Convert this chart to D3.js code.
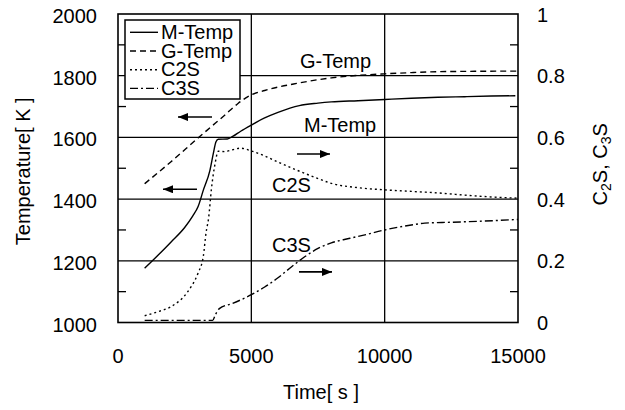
<!DOCTYPE html>
<html>
<head>
  <script src="https://d3js.org/d3.v7.min.js"></script>
  <style>
    body {
  margin: 0;
  background-color: #ffffff;
}

svg {
  font-family: 'Liberation Sans', Arial, sans-serif;
}

.grid line {
  stroke: #000;
  stroke-width: 1.3px;
}

.curve {
  fill: none;
  stroke: #000;
  stroke-width: 1.4px;
}
  </style>
</head>
<body>

<script>
// Values.
const mTemp = [[1000,1176],[1500,1218],[2000,1262],[2500,1308],[2800,1345],[3000,1375],[3200,1429],[3450,1494],[3575,1548],[3675,1586],[3760,1594],[4100,1595],[4300,1603],[4600,1620],[5000,1640],[5500,1663],[6000,1681],[6800,1703],[7500,1711],[8000,1715],[9000,1719],[10000,1723],[11000,1727],[12000,1730],[13000,1732],[14000,1734],[14900,1735]];
const gTemp = [[1000,1450],[2000,1522],[3000,1598],[3500,1635],[4000,1672],[4500,1710],[5000,1738],[5500,1752],[6000,1763],[6700,1775],[7500,1787],[8000,1793],[9000,1801],[10000,1806],[11000,1810],[12000,1813],[13000,1814],[15000,1815]];
const c2s = [[1000,0.022],[1500,0.035],[2000,0.052],[2600,0.098],[3000,0.16],[3200,0.215],[3300,0.29],[3400,0.34],[3500,0.43],[3640,0.515],[3760,0.555],[4000,0.554],[4300,0.56],[4600,0.565],[5000,0.556],[5500,0.54],[6000,0.52],[6700,0.494],[7400,0.47],[8000,0.451],[9000,0.437],[10000,0.43],[11000,0.425],[12000,0.42],[13000,0.413],[14000,0.407],[15000,0.403]];
const c3s = [[1000,0.007],[2000,0.007],[3000,0.007],[3550,0.007],[3650,0.025],[3800,0.045],[4300,0.062],[5000,0.09],[5500,0.115],[6000,0.145],[6500,0.18],[7000,0.213],[7500,0.24],[8000,0.258],[8700,0.273],[9300,0.285],[10000,0.30],[11000,0.316],[11500,0.322],[12500,0.325],[13500,0.328],[15000,0.334]];

const xTicks = [0, 5000, 10000, 15000];
const tempTicks = [1000, 1200, 1400, 1600, 1800, 2000];
const tempMinor = [1100, 1300, 1500, 1700, 1900];
const fracTicks = [0, 0.2, 0.4, 0.6, 0.8, 1];
const fracMinor = [0.1, 0.3, 0.5, 0.7, 0.9];

const legendNames = ["M-Temp", "G-Temp", "C2S", "C3S"];
const dashes = [null, "6,4", "2,3", "8,3,2,3"];

// curve labels [time, temperature, text]
const curveLabels = [[6825, 1824, "G-Temp"], [6975, 1618, "M-Temp"], [5775, 1423, "C2S"], [5775, 1230, "C3S"]];
// arrows [t from, t to, value, axis]
const arrows = [[3525, 2250, 1666, "T"], [2962, 1687, 1432, "T"], [6712, 7950, 0.546, "C"], [6787, 8025, 0.164, "C"]];

const width = 625;
const height = 410;
const plotL = 118, plotR = 518, plotT = 14, plotB = 322.5;
const fs = "20px";

const x = d3.scaleLinear().domain([0, 15000]).range([plotL, plotR]);
const yT = d3.scaleLinear().domain([1000, 2000]).range([plotB, plotT]);
const yC = d3.scaleLinear().domain([0, 1]).range([plotB, plotT]);

const svg = d3.select("body")
  .append("svg")
  .attr("width", width)
  .attr("height", height);

// grid lines
const grid = svg.append("g").attr("class", "grid");
grid.selectAll(".h")
  .data(tempTicks.slice(1, -1))
  .enter().append("line")
  .attr("x1", plotL).attr("x2", plotR)
  .attr("y1", d => yT(d)).attr("y2", d => yT(d));
grid.selectAll(".v")
  .data(xTicks.slice(1, -1))
  .enter().append("line")
  .attr("x1", d => x(d)).attr("x2", d => x(d))
  .attr("y1", plotT).attr("y2", plotB);

// minor ticks inside the frame
grid.selectAll(".tl")
  .data(tempMinor)
  .enter().append("line")
  .attr("x1", plotL).attr("x2", plotL + 8)
  .attr("y1", d => yT(d)).attr("y2", d => yT(d));
grid.selectAll(".tr")
  .data(fracMinor)
  .enter().append("line")
  .attr("x1", plotR - 8).attr("x2", plotR)
  .attr("y1", d => yC(d)).attr("y2", d => yC(d));

// frame
svg.append("rect")
  .attr("x", plotL).attr("y", plotT)
  .attr("width", plotR - plotL).attr("height", plotB - plotT)
  .attr("fill", "none")
  .attr("stroke", "#000")
  .attr("stroke-width", 1.6);

// tick labels
svg.selectAll(".ly")
  .data(tempTicks)
  .enter().append("text")
  .attr("x", 97)
  .attr("y", d => yT(d) + 9)
  .attr("text-anchor", "end")
  .attr("font-size", fs)
  .text(d => d);

svg.selectAll(".ry")
  .data(fracTicks)
  .enter().append("text")
  .attr("x", 537)
  .attr("y", d => yC(d) + 7.5)
  .attr("font-size", fs)
  .text(d => d);

svg.selectAll(".bx")
  .data(xTicks)
  .enter().append("text")
  .attr("x", d => x(d))
  .attr("y", 363)
  .attr("text-anchor", "middle")
  .attr("font-size", fs)
  .text(d => d);

// axis titles
svg.append("text")
  .attr("x", (plotL + plotR) / 2 + 3)
  .attr("y", 399)
  .attr("text-anchor", "middle")
  .attr("font-size", fs)
  .text("Time[ s ]");

svg.append("text")
  .attr("transform", `translate(30,${(plotT + plotB) / 2 + 3}) rotate(-90)`)
  .attr("text-anchor", "middle")
  .attr("font-size", fs)
  .text("Temperature[ K ]");

const rt = svg.append("text")
  .attr("transform", `translate(607,${(plotT + plotB) / 2 - 4}) rotate(-90)`)
  .attr("text-anchor", "middle")
  .attr("font-size", fs);
rt.append("tspan").text("C");
rt.append("tspan").attr("font-size", "14px").attr("dy", 4).text("2");
rt.append("tspan").attr("dy", -4).text("S, C");
rt.append("tspan").attr("font-size", "14px").attr("dy", 4).text("3");
rt.append("tspan").attr("dy", -4).text("S");

// curves
const lineT = d3.line().x(d => x(d[0])).y(d => yT(d[1])).curve(d3.curveMonotoneX);
const lineC = d3.line().x(d => x(d[0])).y(d => yC(d[1])).curve(d3.curveMonotoneX);

const series = [
  { data: mTemp, line: lineT },
  { data: gTemp, line: lineT },
  { data: c2s, line: lineC },
  { data: c3s, line: lineC }
];

svg.selectAll(".curve")
  .data(series)
  .enter().append("path")
  .attr("class", "curve")
  .attr("d", d => d.line(d.data))
  .attr("stroke-dasharray", (d, i) => dashes[i]);

// curve labels
svg.selectAll(".clabel")
  .data(curveLabels)
  .enter().append("text")
  .attr("x", d => x(d[0]))
  .attr("y", d => yT(d[1]))
  .attr("font-size", fs)
  .text(d => d[2]);

// arrows
svg.append("defs").append("marker")
  .attr("id", "head")
  .attr("viewBox", "0 0 10 8")
  .attr("refX", 10).attr("refY", 4)
  .attr("markerWidth", 10).attr("markerHeight", 8)
  .attr("markerUnits", "userSpaceOnUse")
  .attr("orient", "auto")
  .append("path")
  .attr("d", "M0,0L10,4L0,8Z")
  .attr("fill", "#000");

svg.selectAll(".arrow")
  .data(arrows)
  .enter().append("line")
  .attr("x1", d => x(d[0]))
  .attr("x2", d => x(d[1]))
  .attr("y1", d => d[3] === "T" ? yT(d[2]) : yC(d[2]))
  .attr("y2", d => d[3] === "T" ? yT(d[2]) : yC(d[2]))
  .attr("stroke", "#000")
  .attr("stroke-width", 1.6)
  .attr("marker-end", "url(#head)");

// legend
const legend = svg.append("g");
legend.append("rect")
  .attr("x", 125).attr("y", 20)
  .attr("width", 115).attr("height", 79)
  .attr("fill", "#fff")
  .attr("stroke", "#000")
  .attr("stroke-width", 1.5);

const rows = legend.selectAll(".row")
  .data(legendNames)
  .enter().append("g")
  .attr("transform", (d, i) => `translate(0,${32.3 + i * 18.7})`);

rows.append("line")
  .attr("x1", 130).attr("x2", 158)
  .attr("y1", 0).attr("y2", 0)
  .attr("stroke", "#000")
  .attr("stroke-width", 1.4)
  .attr("stroke-dasharray", (d, i) => dashes[i]);

rows.append("text")
  .attr("x", 161)
  .attr("y", 6.5)
  .attr("font-size", fs)
  .text(d => d);
</script>
</body>
</html>
